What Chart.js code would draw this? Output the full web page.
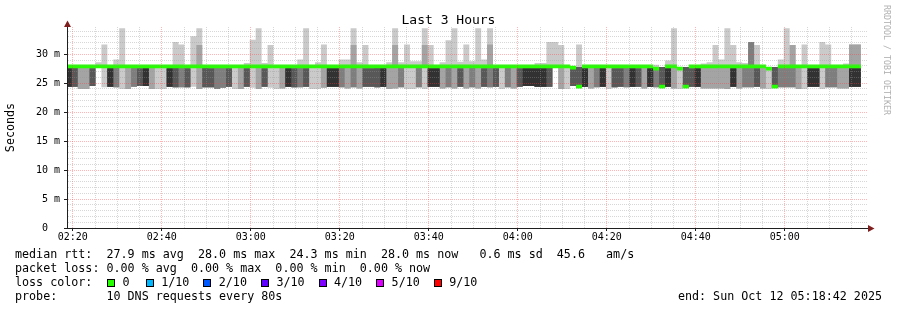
<!DOCTYPE html>
<html>
<head>
<meta charset="utf-8">
<script src="https://cdn.jsdelivr.net/npm/chart.js@4.4.1/dist/chart.umd.min.js"></script>
<style>
  html, body { margin: 0; padding: 0; background: #fff; }
  #wrap { position: relative; width: 897px; height: 310px; overflow: hidden; background: #fff; }
  #chart { position: absolute; left: 0; top: 0; }
  .mono { position: absolute; font-family: "DejaVu Sans Mono", monospace; white-space: pre; color: #000; }
  .row { left: 15px; font-size: 11.7px; line-height: 14px; }
  .box { position: absolute; width: 6px; height: 6px; border: 1px solid #000; }
</style>
</head>
<body>
<div id="wrap">
  <canvas id="chart" width="897" height="310"></canvas>
  <div class="mono" id="title" style="left:0;width:897px;top:12px;text-align:center;font-size:13px;line-height:15px;">Last 3 Hours</div>
  <div class="mono" id="rrd" style="left:892px;top:5px;font-size:8.3px;line-height:10px;color:#b0b0b0;transform:rotate(90deg);transform-origin:0 0;">RRDTOOL / TOBI OETIKER</div>
  <div class="mono row" style="top:247px;">median rtt:  27.9 ms avg  28.0 ms max  24.3 ms min  28.0 ms now   0.6 ms sd  45.6   am/s</div>
  <div class="mono row" style="top:261px;">packet loss: 0.00 % avg  0.00 % max  0.00 % min  0.00 % now</div>
  <div class="mono row" style="top:275px;">loss color:</div>
  <div id="lossRow"></div>
  <div class="mono row" style="top:289px;">probe:       10 DNS requests every 80s</div>
  <div class="mono row" style="top:289px;left:auto;right:15px;">end: Sun Oct 12 05:18:42 2025</div>
</div>
<script>
// time axis, seconds after midnight
const stepSeconds = 80;
const firstStep = 8306;   // 02:18:26
const viewStart = 8322;   // 02:18:42
const viewEnd = 19122;    // 05:18:42
const timeTicks = [8400, 9600, 10800, 12000, 13200, 14400, 15600, 16800, 18000];
const timeLabels = ['02:20', '02:40', '03:00', '03:20', '03:40', '04:00', '04:20', '04:40', '05:00'];

// one entry per 80 s step: how many of the 10 pings sit in the low cluster
const lowCount = [
  3,5,4,2,2,4,0,1,5,3, 1,2,3,4,5,2,1,1,5,4, 3,4,1,2,4,4,3,3,4,1,
  2,4,1,2,4,1,1,2,5,4, 3,4,1,1,2,5,5,3,2,3, 2,4,4,4,5,2,2,3,1,1,
  3,1,5,5,2,3,2,4,2,3, 2,4,3,4,1,3,2,4,5,5, 5,5,4,0,2,1,4,6,5,2,
  3,5,1,4,4,3,5,4,2,5, 3,6,5,2,1,6,4,5,2,2, 2,2,2,5,2,3,3,4,2,1,
  6,3,3,3,2,1,5,5,1,3, 3,2,2,5
];
// value of the low cluster (ms)
const lowMs = [
  24.0,24.4,24.4,24.0,24.0,24.5,24.2,24.3,24.4,24.3, 24.0,24.0,24.4,24.5,24.5,24.0,24.0,24.0,24.4,24.3,
  24.3,24.3,24.4,24.0,24.3,24.3,24.0,24.2,24.4,24.0, 24.0,24.4,24.2,24.0,24.4,24.2,24.0,24.1,24.4,24.3,
  24.3,24.4,24.0,24.0,24.2,24.4,24.4,24.3,24.1,24.3, 24.1,24.4,24.4,24.3,24.4,24.0,24.1,24.3,24.0,24.0,
  24.3,24.0,24.4,24.4,24.1,24.3,24.1,24.4,24.1,24.3, 24.1,24.4,24.3,24.4,24.0,24.3,24.1,24.4,24.5,24.5,
  24.4,24.4,24.4,24.2,24.0,24.0,24.5,24.2,24.4,24.1, 24.3,24.4,24.0,24.3,24.4,24.3,24.4,24.4,24.1,24.4,
  24.3,24.2,24.4,24.1,24.0,24.2,24.4,24.4,24.1,24.1, 24.1,24.1,24.0,24.4,24.1,24.3,24.3,24.4,24.1,24.0,
  24.2,24.3,24.3,24.3,24.0,24.0,24.4,24.4,24.0,24.3, 24.3,24.1,24.1,24.4
];
// value of the high cluster (ms)
const highMs = [
  27.7,27.6,27.7,27.8,27.7,27.6,27.9,27.7,27.6,27.7, 27.8,27.7,27.7,27.6,27.6,27.7,27.8,27.7,27.6,27.7,
  27.7,27.6,27.8,27.7,27.7,27.6,27.7,27.7,27.6,27.8, 27.7,27.6,27.8,27.7,27.6,27.7,27.8,27.7,27.6,27.6,
  27.7,27.6,27.8,27.8,27.7,27.6,27.6,27.7,27.7,27.7, 27.7,27.6,27.6,27.7,27.6,27.7,27.7,27.7,27.8,27.8,
  27.7,27.8,27.6,27.6,27.7,27.7,27.7,27.6,27.7,27.7, 27.7,27.6,27.7,27.6,27.8,27.7,27.7,27.6,27.6,27.6,
  27.6,27.6,27.7,27.9,27.7,27.8,27.6,27.8,27.6,27.7, 27.7,27.6,27.8,27.6,27.6,27.7,27.6,27.6,27.7,27.6,
  27.7,27.8,27.6,27.7,27.8,27.8,27.6,27.6,27.7,27.7, 27.7,27.7,27.7,27.6,27.7,27.7,27.7,27.6,27.7,27.8,
  27.8,27.7,27.7,27.7,27.7,27.8,27.6,27.6,27.8,27.7, 27.7,27.7,27.7,27.6
];
// slowest ping of the step (0 = none above the high cluster) and how many pings share it
const topMs = [
  0,0,0,0,0,0,28.6,31.7,0,29.1, 34.5,0,0,0,0,0,0,0,0,32.1, 31.7,0,33.1,34.5,0,0,0,0,0,0,
  0,28.5,32.5,34.5,28.5,31.6,0,0,0,0, 29.1,34.5,0,28.6,31.7,0,0,29.1,29.1,34.5, 28.6,31.6,0,0,0,28.6,34.5,28.6,31.7,28.8,
  28.8,34.5,31.6,0,28.6,32.4,34.5,28.7,31.7,28.8, 34.5,29.1,34.5,0,0,0,0,0,0,0, 28.5,28.5,32.1,32.1,31.6,0,0,31.7,0,0,
  0,0,0,0,0,0,0,0,0,0, 28.2,0,28.9,34.5,0,0,0,0,28.4,28.6, 31.6,29.1,34.5,31.6,28.6,28.5,32.1,31.6,0,0,
  0,29.1,34.5,31.6,0,31.7,0,0,32.1,31.7, 0,0,28.4,31.7
];
const topCount = [
  0,0,0,0,0,0,1,1,0,1, 1,0,0,0,0,0,0,0,0,1, 1,0,1,1,0,0,0,0,0,0,
  0,1,1,1,1,1,0,0,0,0, 1,1,0,1,1,0,0,1,1,1, 1,1,0,0,0,1,1,1,1,1,
  1,1,1,0,1,1,1,1,1,1, 1,1,1,0,0,0,0,0,0,0, 1,1,1,1,1,0,0,1,0,0,
  0,0,0,0,0,0,0,0,0,0, 1,0,1,1,0,0,0,0,1,1, 1,1,1,1,1,1,3,1,0,0,
  0,1,1,2,0,1,0,0,1,1, 0,0,1,2
];
// second slowest ping when it differs from both clusters (0 = none)
const midMs = [
  0,0,0,0,0,0,0,0,0,0, 0,0,0,0,0,0,0,0,0,0, 0,0,0,31.6,0,0,0,0,0,0,
  0,0,0,0,0,0,0,0,0,0, 0,0,0,0,0,0,0,0,0,31.6, 0,0,0,0,0,0,31.6,0,0,0,
  0,31.6,0,0,0,0,0,0,0,0, 0,0,31.7,0,0,0,0,0,0,0, 0,0,0,0,0,0,0,0,0,0,
  0,0,0,0,0,0,0,0,0,0, 0,0,0,0,0,0,0,0,0,0, 0,0,0,0,0,0,0,0,0,0,
  0,0,0,0,0,0,0,0,0,0, 0,0,0,0
];
// median rtt per step (ms)
const medianMs = [
  27.9,27.9,27.9,27.9,27.9,27.9,27.9,27.9,27.9,27.9, 27.9,27.9,27.9,27.9,27.9,27.9,27.9,27.9,27.9,27.9,
  27.9,27.9,27.9,27.9,27.9,27.9,27.9,27.9,27.9,27.9, 27.9,27.9,27.9,27.9,27.9,27.9,27.9,27.9,27.9,27.9,
  27.9,27.9,27.9,27.9,27.9,27.9,27.9,27.9,27.9,27.9, 27.9,27.9,27.9,27.9,27.9,27.9,27.9,27.9,27.9,27.9,
  27.9,27.9,27.9,27.9,27.9,27.9,27.9,27.9,27.9,27.9, 27.9,27.9,27.9,27.9,27.9,27.9,27.9,27.9,27.9,27.9,
  27.9,27.9,27.9,27.9,27.9,27.9,27.7,24.4,27.9,27.9, 27.9,27.9,27.9,27.9,27.9,27.9,27.9,27.9,27.9,27.9,
  27.5,24.4,27.9,27.9,27.5,24.4,27.9,27.9,27.9,27.9, 27.9,27.9,27.9,27.9,27.9,27.9,27.9,27.9,27.9,27.5,
  24.4,27.9,27.9,27.9,27.9,27.9,27.9,27.9,27.9,27.9, 27.9,27.9,27.9,27.9
];
const lossLabels = ['0', '1/10', '2/10', '3/10', '4/10', '5/10', '9/10'];
const lossColors = ['#26ff00', '#00b8ff', '#0059ff', '#5e00ff', '#7e00ff', '#dd00ff', '#ff0000'];

const smokeShades = ['#cacaca', '#a4a4a4', '#7e7e7e', '#585858', '#323232'];
const medianHalfWidth = 0.33;

// rebuild the 10 sorted pings of every step
function pingsAt(i) {
  const top = topMs[i] > 0 ? topCount[i] : 0;
  const mid = midMs[i] > 0 ? 1 : 0;
  const p = [];
  for (let j = 0; j < 10; j++) {
    if (j < lowCount[i]) p.push(lowMs[i]);
    else if (j >= 10 - top) p.push(topMs[i]);
    else if (mid && j === 9 - top) p.push(midMs[i]);
    else p.push(highMs[i]);
  }
  return p;
}

const steps = lowCount.length;
const pings = lowCount.map((_, i) => pingsAt(i));

function series(values) {
  const pts = values.map((v, i) => ({ x: firstStep + i * stepSeconds, y: v }));
  pts.push({ x: firstStep + steps * stepSeconds, y: values[steps - 1] });
  return pts;
}

function band(data, fill, color, order) {
  return {
    data: data,
    stepped: 'after',
    fill: fill,
    backgroundColor: color || 'transparent',
    borderColor: 'transparent',
    borderWidth: 0,
    pointRadius: 0,
    order: order
  };
}

const datasets = [];
for (let b = 0; b < 5; b++) {
  const base = datasets.length;
  datasets.push(band(series(pings.map(p => p[b])), false, null, 5 - b));
  datasets.push(band(series(pings.map(p => p[9 - b])), base, smokeShades[b], 5 - b));
}
const medBase = datasets.length;
datasets.push(band(series(medianMs.map(v => v - medianHalfWidth)), false, null, 0));
datasets.push(band(series(medianMs.map(v => v + medianHalfWidth)), medBase, lossColors[0], 0));

// little arrow heads on the axes, as rrdtool draws them
const axisArrows = {
  id: 'axisArrows',
  afterDraw(chart) {
    const { ctx, chartArea: a } = chart;
    ctx.save();
    ctx.fillStyle = '#7f1f1f';
    ctx.beginPath();
    ctx.moveTo(a.left + 0.5, a.top - 6.5);
    ctx.lineTo(a.left + 4, a.top);
    ctx.lineTo(a.left - 3, a.top);
    ctx.closePath();
    ctx.fill();
    ctx.beginPath();
    ctx.moveTo(a.right + 6.5, a.bottom + 0.5);
    ctx.lineTo(a.right, a.bottom - 3);
    ctx.lineTo(a.right, a.bottom + 4);
    ctx.closePath();
    ctx.fill();
    ctx.restore();
  }
};

const minorGrid = 'rgba(150,150,150,0.38)';
const majorGrid = 'rgba(255,60,60,0.38)';
const tickFont = { family: 'DejaVu Sans Mono', size: 10 };

new Chart(document.getElementById('chart'), {
  type: 'line',
  data: { datasets: datasets },
  options: {
    responsive: false,
    animation: false,
    devicePixelRatio: 1,
    layout: { padding: { top: 27, right: 29, bottom: 0, left: 0 } },
    plugins: { legend: { display: false }, tooltip: { enabled: false }, title: { display: false } },
    scales: {
      x: {
        type: 'linear',
        min: viewStart,
        max: viewEnd,
        afterBuildTicks(scale) {
          const ticks = [];
          for (let t = timeTicks[0]; t <= viewEnd; t += 300) ticks.push({ value: t });
          scale.ticks = ticks;
        },
        afterFit(scale) { scale.height = 82; },
        ticks: {
          autoSkip: false, maxRotation: 0, minRotation: 0, padding: 0,
          color: '#000', font: tickFont,
          callback(value) {
            const k = timeTicks.indexOf(value);
            return k >= 0 ? timeLabels[k] : '';
          }
        },
        grid: {
          z: 1,
          tickLength: 3,
          color: c => (c.tick && c.tick.value % 1200 === 0 ? majorGrid : minorGrid),
          tickColor: c => (c.tick && c.tick.value % 1200 === 0 ? '#1f1f1f' : 'transparent')
        },
        border: { display: true, color: '#1f1f1f', width: 1, z: 2, dash: [1, 1] }
      },
      y: {
        min: 0,
        max: 34.7,
        afterFit(scale) { scale.width = 67; },
        ticks: {
          stepSize: 1, autoSkip: false, includeBounds: false, padding: 4,
          color: '#000', font: tickFont,
          callback(value) {
            if (value % 5 !== 0) return '';
            return value === 0 ? '0  ' : value + ' m';
          }
        },
        grid: {
          z: 1,
          tickLength: 3,
          color: c => (c.tick && c.tick.value % 5 === 0 ? majorGrid : minorGrid),
          tickColor: c => (c.tick && c.tick.value % 5 === 0 ? '#1f1f1f' : 'transparent')
        },
        border: { display: true, color: '#1f1f1f', width: 1, z: 2, dash: [1, 1] },
        title: {
          display: true, text: 'Seconds', color: '#000',
          font: { family: 'DejaVu Sans Mono', size: 11.7 },
          padding: { top: 4, bottom: 0 }
        }
      }
    }
  },
  plugins: [axisArrows]
});

// loss colour legend boxes
const lossRow = document.getElementById('lossRow');
lossLabels.forEach((label, i) => {
  const x = 107 + (i === 0 ? 0 : 38.7 + 57.6 * (i - 1));
  const box = document.createElement('div');
  box.className = 'box';
  box.style.left = x + 'px';
  box.style.top = '279px';
  box.style.background = lossColors[i];
  lossRow.appendChild(box);
  const txt = document.createElement('div');
  txt.className = 'mono';
  txt.style.cssText = 'left:' + (x + 15.5) + 'px;top:275px;font-size:11.7px;line-height:14px;';
  txt.textContent = label;
  lossRow.appendChild(txt);
});
</script>
</body>
</html>
